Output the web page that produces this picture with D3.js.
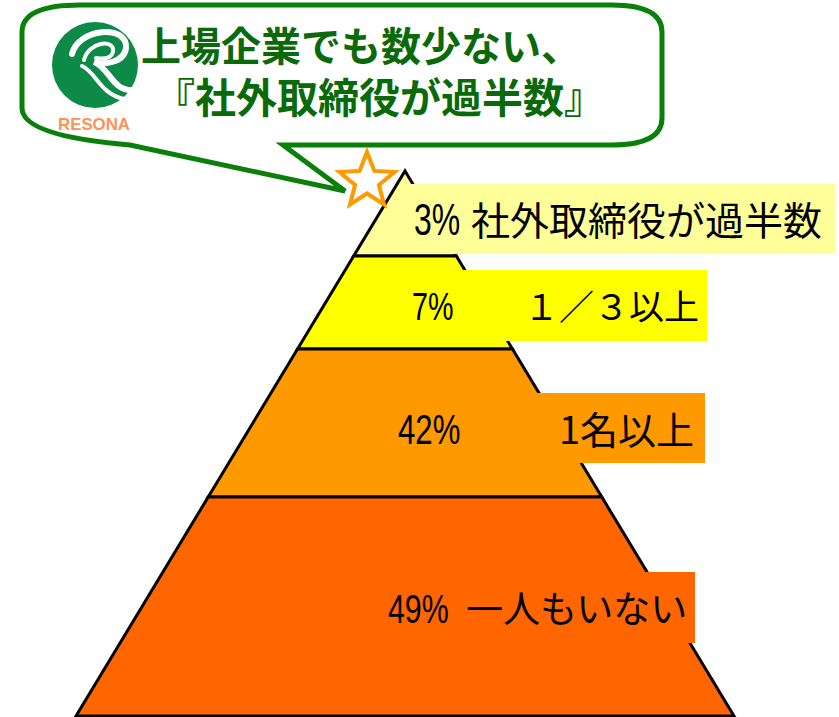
<!DOCTYPE html>
<html>
<head>
<meta charset="utf-8">
<script src="https://cdn.jsdelivr.net/npm/d3@7"></script>
<style>
  html, body { margin: 0; padding: 0; background: #fff; }
  svg { display: block; }
  .lbl { font-family: "Noto Sans CJK JP", sans-serif; fill: #000; }
  .pct { font-family: "Liberation Sans", Arial, sans-serif; fill: #000; }
  .title { font-family: "Noto Sans CJK JP", sans-serif; font-weight: 700; fill: #0a6a0a; }
</style>
</head>
<body>
<div id="chart"></div>
<script>
const WIDTH = 839;
const HEIGHT = 717;

// data
const shares = [3, 7, 42, 49];
const tierLabels = ["社外取締役が過半数", "１／３以上", "1名以上", "一人もいない"];
const titleLines = ["上場企業でも数少ない、", "『社外取締役が過半数』"];
const brand = "RESONA";

// styles / layout
const tierFill = ["#ffff99", "#ffff00", "#ff9900", "#ff6600"];
const APEX_X = 405, TOP_Y = 171, BASE_Y = 716, HALF_BASE = 329;
// label boxes next to the pyramid, font size, where the texts go
const boxes = [
  { x0: 407, x1: 835, y0: 184, y1: 254, size: 39, px: 414, lx: 471, anchor: "start" },
  { x0: 440, x1: 707, y0: 270, y1: 341, size: 35, px: 412, lx: 699, anchor: "end" },
  { x0: 534, x1: 705, y0: 393, y1: 463, size: 38, px: 398, lx: 694, anchor: "end" },
  { x0: 460, x1: 695, y0: 572, y1: 643, size: 37, px: 388, lx: 466, anchor: "start" }
];
const titleX = [141, 154], titleY = [61, 113], titleSize = [40, 41];

var svg = d3.select("#chart").append("svg")
    .attr("width", WIDTH)
    .attr("height", HEIGHT);

// ---- speech bubble ----
svg.append("path")
    .attr("d", "M 80,5 L 612,5 Q 662,5 662,32 L 662,118 Q 662,145 612,145 L 283,145 L 345,191 L 130,145 Q 22,136 22,108 L 22,32 Q 22,5 80,5 Z")
    .attr("fill", "#fff")
    .attr("stroke", "#0a800a")
    .attr("stroke-width", 5)
    .attr("stroke-linejoin", "miter");

// logo
var logo = svg.append("g");
logo.append("circle")
    .attr("cx", 95).attr("cy", 65).attr("r", 43)
    .attr("fill", "#0d8a47");
logo.append("path")
    .attr("d", "M 72,54 C 78,28 128,24 126,48 C 124,63 104,65 94,62 C 110,68 112,92 134,90")
    .attr("fill", "none").attr("stroke", "#fff").attr("stroke-width", 6).attr("stroke-linecap", "round");
logo.append("path")
    .attr("d", "M 84,60 C 88,42 115,38 113,52 C 111,59 102,59 96,58")
    .attr("fill", "none").attr("stroke", "#fff").attr("stroke-width", 4).attr("stroke-linecap", "round");
logo.append("path")
    .attr("d", "M 82,66 C 96,72 100,94 124,99")
    .attr("fill", "none").attr("stroke", "#fff").attr("stroke-width", 4).attr("stroke-linecap", "round");
logo.append("text")
    .attr("x", 58).attr("y", 130)
    .attr("textLength", 72)
    .attr("lengthAdjust", "spacingAndGlyphs")
    .style("font-family", "Liberation Sans, sans-serif")
    .style("font-weight", 700)
    .style("font-size", "17px")
    .style("fill", "#ff9258")
    .text(brand);

// title, two lines in one text
svg.append("text")
    .attr("class", "title")
  .selectAll("tspan")
  .data(titleLines)
  .join("tspan")
    .attr("x", (d, i) => titleX[i])
    .attr("y", (d, i) => titleY[i])
    .style("font-size", (d, i) => titleSize[i] + "px")
    .text(d => d);

// ---- pyramid ----
var cum = [0].concat(Array.from(d3.cumsum(shares)));
var y = d3.scaleLinear()
    .domain(cum)
    .range([TOP_Y, 256, 349, 497, BASE_Y]);
var half = d3.scaleLinear()
    .domain([TOP_Y, BASE_Y])
    .range([0, HALF_BASE]);

var tiers = shares.map((s, i) => ({ share: s, label: tierLabels[i], y0: y(cum[i]), y1: y(cum[i + 1]), i: i }));

svg.selectAll(".tier")
  .data(tiers)
  .join("path")
    .attr("class", "tier")
    .attr("d", d => d3.line()([
        [APEX_X - half(d.y0), d.y0],
        [APEX_X + half(d.y0), d.y0],
        [APEX_X + half(d.y1), d.y1],
        [APEX_X - half(d.y1), d.y1]
      ]) + "Z")
    .attr("fill", d => tierFill[d.i])
    .attr("stroke", "#000")
    .attr("stroke-width", 3)
    .attr("stroke-linejoin", "miter")
    .attr("stroke-miterlimit", 20);

// label boxes
svg.selectAll(".box")
  .data(tiers)
  .join("rect")
    .attr("class", "box")
    .attr("x", d => boxes[d.i].x0)
    .attr("y", d => boxes[d.i].y0)
    .attr("width", d => boxes[d.i].x1 - boxes[d.i].x0)
    .attr("height", d => boxes[d.i].y1 - boxes[d.i].y0)
    .attr("fill", d => tierFill[d.i]);

var fmt = d => d + "%";
tiers.forEach(d => {
  var b = boxes[d.i];
  var base = (b.y0 + b.y1) / 2 + 0.37 * b.size + 2;
  var digits = String(d.share).length;
  // tall narrow figures, like the original's condensed face
  svg.append("text").attr("class", "pct")
      .attr("x", b.px).attr("y", base)
      .attr("textLength", b.size * (0.456 * digits + 0.729))
      .attr("lengthAdjust", "spacingAndGlyphs")
      .style("font-size", (b.size * 1.12) + "px")
      .text(fmt(d.share));
  svg.append("text").attr("class", "lbl")
      .attr("x", b.lx).attr("y", base)
      .attr("text-anchor", b.anchor)
      .style("font-size", b.size + "px")
      .text(d.label);
});

// star at the top
var star = [];
for (var k = 0; k < 10; k++) {
  var r = k % 2 === 0 ? 29 : 12.5;
  var a = -Math.PI / 2 + k * Math.PI / 5;
  star.push([367 + r * Math.cos(a), 181 + r * Math.sin(a)]);
}
svg.append("path")
    .attr("d", d3.line()(star) + "Z")
    .attr("fill", "#fff")
    .attr("stroke", "#ff9900")
    .attr("stroke-width", 4);
</script>
</body>
</html>
